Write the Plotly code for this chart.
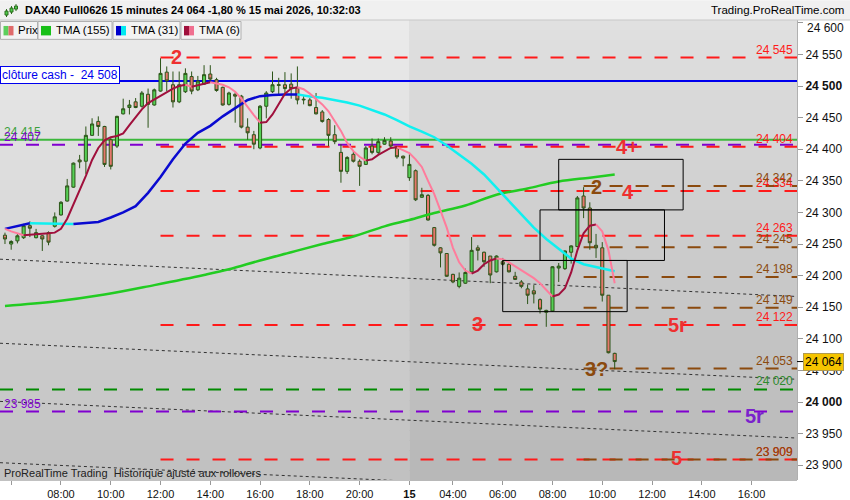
import plotly.graph_objects as go

# 15-minute bars: index 0 = 14 mai 05:45 ... index 98 = 15 mai 10:30
bar_open = [24264, 24250, 24255, 24260, 24279, 24260, 24263, 24268, 24278, 24296,
            24318, 24340, 24383, 24381, 24422, 24444, 24436, 24415, 24405, 24456,
            24466, 24475, 24468, 24487, 24470, 24492, 24522, 24502, 24475, 24491,
            24515, 24494, 24503, 24519, 24510, 24498, 24471, 24487, 24484, 24435,
            24423, 24402, 24468, 24491, 24501, 24502, 24503, 24497, 24478, 24478,
            24466, 24459, 24447, 24423, 24395, 24365, 24392, 24381, 24376, 24405,
            24395, 24408, 24413, 24402, 24389, 24355, 24366, 24324, 24327, 24276,
            24244, 24235, 24202, 24183, 24188, 24206, 24244, 24237, 24231, 24206,
            24222, 24218, 24199, 24190, 24179, 24176, 24162, 24142, 24144, 24212,
            24211, 24237, 24246, 24326, 24307, 24248, 24244, 24169, 24077]
bar_high = [24268, 24256, 24266, 24282, 24286, 24274, 24264, 24270, 24300, 24318,
            24353, 24379, 24391, 24436, 24449, 24452, 24437, 24419, 24453, 24480,
            24478, 24481, 24492, 24496, 24496, 24544, 24531, 24523, 24523, 24528,
            24523, 24516, 24533, 24533, 24513, 24499, 24491, 24490, 24486, 24449,
            24429, 24470, 24492, 24523, 24513, 24522, 24520, 24531, 24484, 24481,
            24489, 24462, 24449, 24438, 24408, 24389, 24397, 24384, 24405, 24417,
            24417, 24419, 24419, 24405, 24390, 24392, 24368, 24339, 24329, 24277,
            24245, 24235, 24203, 24205, 24211, 24261, 24248, 24238, 24231, 24232,
            24228, 24222, 24206, 24193, 24186, 24185, 24164, 24146, 24215, 24220,
            24240, 24248, 24326, 24340, 24316, 24266, 24253, 24169, 24078]
bar_low = [24250, 24241, 24251, 24258, 24261, 24259, 24239, 24248, 24276, 24295,
           24317, 24339, 24370, 24361, 24421, 24421, 24372, 24368, 24402, 24455,
           24455, 24465, 24466, 24434, 24469, 24491, 24492, 24466, 24473, 24489,
           24487, 24492, 24502, 24507, 24491, 24469, 24469, 24442, 24433, 24415,
           24400, 24400, 24449, 24489, 24486, 24486, 24480, 24471, 24471, 24468,
           24455, 24442, 24405, 24408, 24347, 24361, 24379, 24342, 24375, 24392,
           24392, 24407, 24402, 24385, 24373, 24350, 24318, 24323, 24287, 24246,
           24213, 24198, 24188, 24180, 24187, 24205, 24224, 24214, 24188, 24205,
           24216, 24205, 24193, 24180, 24155, 24156, 24140, 24119, 24143, 24190,
           24209, 24219, 24245, 24291, 24241, 24228, 24159, 24077, 24052]
bar_close = [24258, 24254, 24263, 24279, 24275, 24268, 24258, 24253, 24293, 24316,
             24342, 24378, 24380, 24422, 24440, 24436, 24376, 24373, 24452, 24464,
             24470, 24466, 24489, 24471, 24494, 24520, 24508, 24475, 24502, 24520,
             24492, 24508, 24518, 24511, 24493, 24470, 24489, 24484, 24435, 24426,
             24408, 24468, 24489, 24502, 24502, 24496, 24496, 24478, 24479, 24469,
             24456, 24444, 24422, 24412, 24365, 24387, 24381, 24373, 24402, 24395,
             24412, 24414, 24405, 24388, 24386, 24376, 24320, 24328, 24288, 24248,
             24236, 24199, 24190, 24196, 24205, 24240, 24240, 24222, 24201, 24231,
             24218, 24206, 24194, 24183, 24169, 24171, 24147, 24145, 24214, 24215,
             24239, 24247, 24323, 24307, 24252, 24244, 24169, 24078, 24064]

# moving averages (bar index, value)
tma6_x = [0, 1, 3, 5, 7, 8, 9, 10, 11, 12, 13, 14, 15, 16, 17, 18, 19, 20, 21, 22,
          23, 24, 25, 26, 27, 28, 29, 30, 31, 32, 33, 34, 35, 36, 37, 38, 39, 40, 41, 42,
          43, 44, 45, 46, 47, 48, 49, 50, 51, 52, 53, 54, 55, 56, 57, 58, 59, 60, 61, 62,
          63, 64, 65, 66, 67, 68, 69, 70, 71, 72, 73, 74, 75, 76, 77, 78, 79, 80, 81, 82,
          83, 84, 85, 86, 87, 88, 89, 90, 91, 92, 93, 94, 95, 96, 97, 98]
tma6_y = [24274, 24270, 24264, 24265, 24267, 24268, 24274, 24290, 24312, 24336,
          24358, 24383, 24402, 24414, 24419, 24421, 24425, 24438, 24451, 24463,
          24473, 24479, 24485, 24491, 24496, 24500, 24502, 24499, 24501, 24504,
          24506, 24504, 24502, 24498, 24491, 24480, 24466, 24454, 24442, 24443,
          24455, 24471, 24488, 24496, 24498, 24495, 24488, 24480, 24471, 24460,
          24444, 24429, 24410, 24397, 24388, 24382, 24384, 24391, 24397, 24402,
          24403, 24399, 24394, 24384, 24372, 24350, 24329, 24303, 24276, 24244,
          24221, 24208, 24203, 24208, 24218, 24224, 24227, 24226, 24221, 24215,
          24208, 24203, 24196, 24188, 24178, 24167, 24170, 24180, 24205, 24240,
          24267, 24279, 24281, 24270, 24240, 24188]
tma31_x = [0, 2, 4, 6, 8, 11, 13, 15, 17, 19, 21, 23, 25, 27, 29, 31, 33, 35, 37, 39,
           41, 43, 45, 47, 49, 51, 53, 55, 57, 59, 61, 63, 65, 67, 69, 71, 73, 75, 77, 79,
           81, 83, 85, 87, 89, 91, 93, 95, 97, 98]
tma31_y = [24274, 24279, 24283, 24282.6, 24282, 24281.5, 24283.5, 24285, 24292, 24300,
           24310, 24331, 24356, 24384, 24409, 24426, 24437, 24452, 24465, 24478,
           24484, 24486, 24486.5, 24486.8, 24483.5, 24481.5, 24478, 24474, 24469, 24462.5,
           24455, 24446, 24436, 24428, 24419, 24406, 24391, 24377, 24360, 24339,
           24318, 24297, 24276, 24258, 24242, 24227, 24218, 24214, 24210, 24207]
tma155_x = [0, 8, 16, 24, 32, 36, 41, 46, 51, 56, 61, 65, 69, 74, 79, 84, 89, 94, 98]
tma155_y = [24152, 24159, 24170, 24185, 24201, 24210, 24224, 24237, 24250, 24262,
            24278, 24288, 24299, 24311, 24328, 24338, 24349, 24355, 24360]

# horizontal levels
red_levels = [24545, 24404, 24334, 24263, 24122, 23909]
brown_levels = [24342, 24245, 24198, 24149, 24053, 23909]
purple_levels = [24407, 23985]
green_dash_level = 24020
green_line_level = 24415
cash_close = 24508
last_price = 24064

# dotted trend lines: value at left edge / right edge
trend_start = [24226, 24093, 24001, 23904]
trend_end = [24167, 24036, 23943, 23847]

# projection boxes
box_x0 = [89, 86, 80]
box_x1 = [109, 106, 100]
box_low = [24304, 24224, 24143]
box_high = [24384, 24304, 24224]

# wave labels
wave_text = ["2", "4+", "2", "4", "3", "5r", "3?", "5r", "5"]
wave_x = [27.6, 100.1, 95, 100.1, 76, 108.1, 95.1, 120.5, 108]
wave_y = [24546, 24403, 24341, 24332, 24124, 24122, 24053, 23978, 23912]
wave_kind = ["red", "red", "brown", "red", "red", "red", "brown", "purple", "red"]

tick_idx = [1, 9, 17, 25, 33, 41, 49, 57, 65, 72, 80, 88, 96, 104, 112, 120]
tick_txt = ["", "08:00", "10:00", "12:00", "14:00", "16:00", "18:00", "20:00", "<b>15</b>",
            "04:00", "06:00", "08:00", "10:00", "12:00", "14:00", "16:00"]
price_ticks = list(range(23900, 24601, 50))

XMIN, XMAX = -0.8, 127.3
YMIN, YMAX = 23876.6, 24604.5
DAY_START = 65
RED_START = 25
BROWN_START = 93

RED = "#ff1a1a"
BROWN = "#8b4a0e"
PURPLE = "#8000d0"
COLORS = {"red": "#ee3030", "brown": "#8b4a0e", "purple": "#7a22cc"}
FONT = "Liberation Sans, Arial, sans-serif"


def px(x):
    return x / 797.0


def py(y):
    return (483.0 - y) / 463.0


def fmt(v):
    return f"{v:,}".replace(",", " ")


def slope_traces(xs, ys, up, down, width):
    out = []
    sx, sy = [xs[0]], [ys[0]]
    cur = None
    for k in range(1, len(xs)):
        d = ys[k] >= ys[k - 1]
        if cur is None:
            cur = d
        if d != cur:
            out.append(go.Scatter(x=sx, y=sy, mode="lines", hoverinfo="skip",
                                  line=dict(color=up if cur else down, width=width)))
            sx, sy = [xs[k - 1]], [ys[k - 1]]
            cur = d
        sx.append(xs[k])
        sy.append(ys[k])
    out.append(go.Scatter(x=sx, y=sy, mode="lines", hoverinfo="skip",
                          line=dict(color=up if cur else down, width=width)))
    return out


shapes = []
# background gradient (two sessions)
N = 46
for k in range(N):
    t = k / (N - 1)
    ya = 1 - k / N
    yb = 1 - (k + 1) / N - 0.002
    g1 = int(235 - 42 * t)
    g2 = int(224 - 40 * t)
    shapes.append(dict(type="rect", xref="x", yref="paper", x0=XMIN, x1=DAY_START,
                       y0=yb, y1=ya, fillcolor=f"rgb({g1},{g1},{g1})", line_width=0, layer="below"))
    shapes.append(dict(type="rect", xref="x", yref="paper", x0=DAY_START, x1=XMAX,
                       y0=yb, y1=ya, fillcolor=f"rgb({g2},{g2},{g2})", line_width=0, layer="below"))


def hline(v, x0, color, width=2, dash="13px,13px"):
    shapes.append(dict(type="line", xref="x", yref="y", x0=x0, x1=XMAX, y0=v, y1=v,
                       line=dict(color=color, width=width, dash=dash), layer="below"))


for s, e in zip(trend_start, trend_end):
    shapes.append(dict(type="line", xref="x", yref="y", x0=XMIN, x1=XMAX, y0=s, y1=e,
                       line=dict(color="#333333", width=1, dash="3px,3px"), layer="below"))
hline(green_dash_level, XMIN, "#008a00")
for v in purple_levels:
    hline(v, XMIN, PURPLE)
for v in red_levels:
    hline(v, RED_START, RED)
for v in brown_levels:
    hline(v, BROWN_START, BROWN)
hline(green_line_level, XMIN, "#3cb83c", dash="solid")
hline(cash_close, XMIN, "#0000ee", dash="solid")

for a, b, lo, hi in zip(box_x0, box_x1, box_low, box_high):
    shapes.append(dict(type="rect", xref="x", yref="y", x0=a, x1=b, y0=lo, y1=hi,
                       line=dict(color="black", width=1), fillcolor="rgba(0,0,0,0)"))

# header bar and legend row
shapes.append(dict(type="rect", xref="paper", yref="paper", x0=0, x1=px(850), y0=py(20), y1=py(0),
                   fillcolor="#f0f0f0", line_width=0))
shapes.append(dict(type="line", xref="paper", yref="paper", x0=0, x1=px(850), y0=py(20), y1=py(20),
                   line=dict(color="#c8c8c8", width=1)))
icon = [(6.5, 9, 17), (11.5, 6, 14), (16, 4, 11)]
for xi, ya_, yb_ in icon:
    shapes.append(dict(type="line", xref="paper", yref="paper", x0=px(xi), x1=px(xi),
                       y0=py(yb_), y1=py(ya_), line=dict(color="#2c6a1c", width=1)))
    shapes.append(dict(type="rect", xref="paper", yref="paper", x0=px(xi - 1.5), x1=px(xi + 1.5),
                       y0=py(yb_ - 2), y1=py(ya_ + 2), fillcolor="#4ccc4c", line=dict(color="#2c6a1c", width=1)))

legend_boxes = [(0.5, 37.5, ["#5ccf5c", "#e06a6a"], "Prix"),
                (38, 112, ["#18c018"], "TMA (155)"),
                (113, 180, ["#0000cc", "#00e8f0"], "TMA (31)"),
                (181, 241, ["#a0103c", "#f07090"], "TMA (6)")]
annotations = []
for xa, xb, cols, label in legend_boxes:
    shapes.append(dict(type="rect", xref="paper", yref="paper", x0=px(xa), x1=px(xb),
                       y0=py(39.5), y1=py(21.5), fillcolor="#f3f3f3", line=dict(color="#b0b0b0", width=1)))
    sw = 10.0 / len(cols)
    for j, c in enumerate(cols):
        shapes.append(dict(type="rect", xref="paper", yref="paper", x0=px(xa + 3 + j * sw),
                           x1=px(xa + 3 + (j + 1) * sw), y0=py(35.5), y1=py(26), fillcolor=c, line_width=0))
    annotations.append(dict(xref="paper", yref="paper", x=px(xa + 15.5), y=py(30.5), xanchor="left",
                            yanchor="middle", text=label, showarrow=False,
                            font=dict(size=11.5, color="black")))

# price tag line
shapes.append(dict(type="line", xref="paper", yref="y", x0=1, x1=px(803), y0=last_price, y1=last_price,
                   line=dict(color="black", width=1)))

fig = go.Figure()
fig.add_trace(go.Candlestick(
    x=list(range(len(bar_open))), open=bar_open, high=bar_high, low=bar_low, close=bar_close,
    increasing=dict(fillcolor="#55d055", line=dict(color="#2c5418", width=1)),
    decreasing=dict(fillcolor="#e6776c", line=dict(color="#2c5418", width=1)),
    whiskerwidth=0, showlegend=False))
fig.add_trace(go.Scatter(x=tma155_x, y=tma155_y, mode="lines", hoverinfo="skip",
                         line=dict(color="#22cc22", width=2.5, shape="spline")))
for tr in slope_traces(tma31_x, tma31_y, "#0a0ad0", "#10f0f0", 2.5):
    fig.add_trace(tr)
for tr in slope_traces(tma6_x, tma6_y, "#a0103c", "#ff7c9c", 2):
    fig.add_trace(tr)

# level value labels
right_labels = [(v, RED) for v in red_levels] + [(v, BROWN) for v in brown_levels] + \
               [(green_dash_level, "#2e8b2e")]
for v, c in right_labels:
    annotations.append(dict(xref="paper", yref="y", x=px(795), y=v, xanchor="right", yanchor="middle",
                            yshift=8, text=fmt(v), showarrow=False, font=dict(size=12, color=c)))
left_labels = [(green_line_level, "#3ca03c"), (purple_levels[0], PURPLE), (purple_levels[1], PURPLE)]
for v, c in left_labels:
    annotations.append(dict(xref="paper", yref="y", x=px(2), y=v, xanchor="left", yanchor="middle",
                            yshift=8, text=fmt(v), showarrow=False, font=dict(size=12, color=c)))

for t, x, y, k in zip(wave_text, wave_x, wave_y, wave_kind):
    annotations.append(dict(xref="x", yref="y", x=x, y=y, text=f"<b>{t}</b>", showarrow=False,
                            xanchor="center", yanchor="middle", font=dict(size=20, color=COLORS[k])))

annotations.append(dict(xref="paper", yref="y", x=0, y=cash_close, xanchor="left", yanchor="middle",
                        yshift=6, text="clôture cash -\u00a0 " + fmt(cash_close), showarrow=False,
                        bgcolor="white", bordercolor="#0000ee", borderwidth=1, borderpad=1,
                        font=dict(size=12, color="#0000ee")))
annotations.append(dict(xref="paper", yref="y", x=px(803), y=last_price, xanchor="left", yanchor="middle",
                        text=fmt(last_price), showarrow=False, bgcolor="#f5c400", bordercolor="#b09a50",
                        borderwidth=1, borderpad=1, font=dict(size=12, color="black")))
annotations.append(dict(xref="paper", yref="paper", x=px(805), y=py(28), xanchor="left", yanchor="middle",
                        text=fmt(24600), showarrow=False, font=dict(size=12, color="#111")))
annotations.append(dict(xref="paper", yref="paper", x=px(23), y=py(10), xanchor="left", yanchor="middle",
                        text="<b>DAX40 Full0626 15 minutes 24 064 -1,80 % 15 mai 2026, 10:32:03</b>",
                        showarrow=False, font=dict(size=11, color="black")))
annotations.append(dict(xref="paper", yref="paper", x=px(846), y=py(10), xanchor="right", yanchor="middle",
                        text="Trading.ProRealTime.com", showarrow=False, font=dict(size=11.5, color="black")))
annotations.append(dict(xref="paper", yref="paper", x=px(2), y=py(476), xanchor="left", yanchor="middle",
                        text="ProRealTime Trading\u00a0 Historique ajusté aux rollovers", showarrow=False,
                        font=dict(size=11, color="#222")))

ytext = []
for v in price_ticks:
    if v == 24600:
        ytext.append("")
    elif v % 500 == 0:
        ytext.append("<b>" + fmt(v) + "</b>")
    else:
        ytext.append(fmt(v))

fig.update_layout(
    width=850, height=500,
    margin=dict(l=0, r=53, t=20, b=17),
    paper_bgcolor="white", plot_bgcolor="#d8d8d8",
    showlegend=False,
    font=dict(family=FONT, size=12, color="#111"),
    shapes=shapes, annotations=annotations,
    xaxis=dict(range=[XMIN, XMAX], tickvals=tick_idx, ticktext=tick_txt, ticks="outside",
               ticklen=4, tickcolor="#999", showgrid=False, zeroline=False,
               rangeslider=dict(visible=False), tickfont=dict(size=11, color="#111")),
    yaxis=dict(side="right", range=[YMIN, YMAX], tickvals=price_ticks, ticktext=ytext,
               ticks="outside", ticklen=5, tickcolor="#999", showgrid=False, zeroline=False,
               showline=True, linecolor="#b0b0b0", tickfont=dict(size=12, color="#111")),
)

fig.write_html("out.html", config={"displayModeBar": False},
               post_script="document.body.style.margin='0px';document.body.style.overflow='hidden';")
